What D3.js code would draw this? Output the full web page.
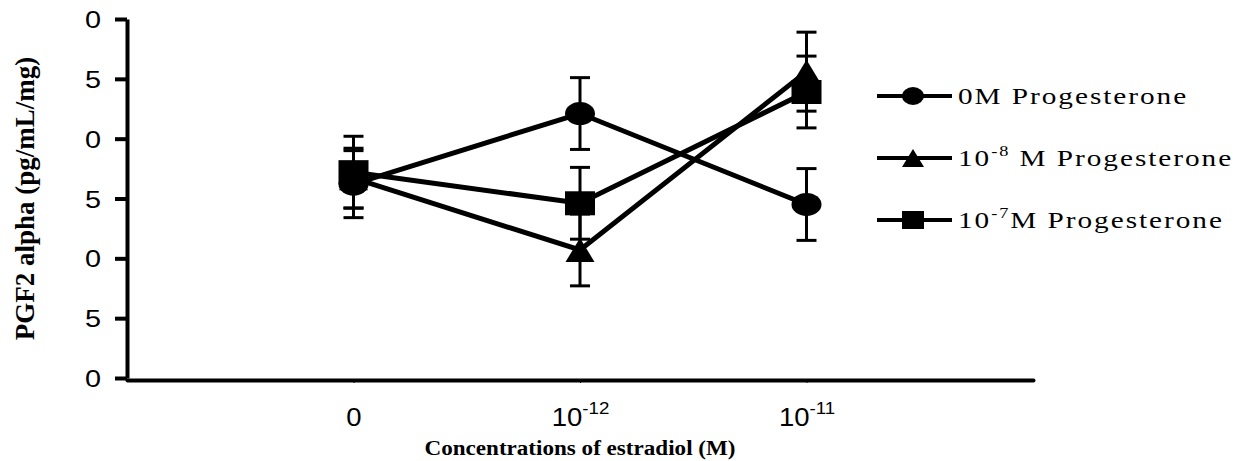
<!DOCTYPE html>
<html>
<head>
<meta charset="utf-8">
<script src="https://cdn.jsdelivr.net/npm/d3@7"></script>
<style>
  body { margin: 0; background: #fff; }
  svg { display: block; }
</style>
</head>
<body>
<svg id="chart" width="1239" height="461"></svg>
<script>
// estradiol concentrations on the x axis
var categories = ['0', '1e-12', '1e-11']
var tickBase = ['0', '10', '10']
var tickSup = ['', '-12', '-11']

// y ticks (labels only show last digit, as in the original)
var yTicks = [0, 5, 10, 15, 20, 25, 30]

// series: PGF2 alpha means and error
var seriesNames = ['0M Progesterone', '10-8 M Progesterone', '10-7 M Progesterone']
var p0Values = [16.2, 22.1, 14.5]
var p0Errors = [2.8, 3.0, 3.0]
var p8Values = [16.7, 10.7, 25.6]
var p8Errors = [2.5, 3.0, 3.3]
var p7Values = [17.2, 14.6, 23.9]
var p7Errors = [3.0, 3.0, 3.0]

var series = [
  { name: seriesNames[0], values: p0Values, errors: p0Errors, marker: 'circle' },
  { name: seriesNames[1], values: p8Values, errors: p8Errors, marker: 'triangle' },
  { name: seriesNames[2], values: p7Values, errors: p7Errors, marker: 'square' }
]

// the original picture is a bit wider than tall, text included
var stretch = 1.2

function widen(sel, ax, ay, s) {
  s = s || stretch
  sel.attr('transform', 'translate(' + ax + ',' + ay + ') scale(' + s + ',1) translate(' + (-ax) + ',' + (-ay) + ')')
}

var svg = d3.select('#chart')

var x = d3.scaleLinear().domain([-1, 3]).range([127, 1033])
var y = d3.scaleLinear().domain([0, 30]).range([378, 19])

// y axis
var yAxis = svg.append('g')
  .attr('transform', 'translate(127,0)')
  .call(d3.axisLeft(y).tickValues(yTicks).tickSize(12).tickSizeOuter(0)
    .tickFormat(function(d) { return String(d % 10) }))
yAxis.select('.domain').attr('stroke-width', 4)
yAxis.selectAll('.tick line').attr('stroke-width', 4)
yAxis.selectAll('.tick text')
  .attr('x', -26)
  .attr('dy', '0.36em')
  .attr('font-family', 'Arial, Liberation Sans, sans-serif')
  .attr('font-size', 24)
  .attr('fill', '#000')
  .call(widen, -26, 0)

// x axis
var xAxis = svg.append('g')
  .attr('transform', 'translate(0,380)')
  .call(d3.axisBottom(x).tickValues([0, 1, 2]).tickSize(3).tickSizeOuter(0).tickFormat(''))
xAxis.select('.domain').attr('stroke-width', 4).attr('stroke-linecap', 'round')
xAxis.selectAll('.tick line').attr('stroke-width', 1)
xAxis.selectAll('.tick text').each(function(d) {
  var t = d3.select(this)
  t.text(null)
    .attr('y', 46)
    .attr('dy', 0)
    .attr('font-family', 'Arial, Liberation Sans, sans-serif')
    .attr('font-size', 25)
    .attr('fill', '#000')
    .call(widen, 0, 46, 1.1)
  t.append('tspan').text(tickBase[d])
  if (tickSup[d]) {
    t.append('tspan').attr('dy', -12).attr('font-size', 17).text(tickSup[d])
  }
})

// axis titles
svg.append('text')
  .attr('x', x(1))
  .attr('y', 455)
  .attr('text-anchor', 'middle')
  .attr('font-family', 'Liberation Serif, Times New Roman, serif')
  .attr('font-weight', 'bold')
  .attr('font-size', 21)
  .call(widen, x(1), 455, 1.1)
  .text('Concentrations of estradiol (M)')

svg.append('text')
  .attr('transform', 'translate(34,' + y(15) + ') rotate(-90)')
  .attr('text-anchor', 'middle')
  .attr('font-family', 'Liberation Serif, Times New Roman, serif')
  .attr('font-weight', 'bold')
  .attr('font-size', 27)
  .text('PGF2 alpha (pg/mL/mg)')

function drawMarker(g, type, cx, cy, w, h) {
  if (type === 'circle') {
    g.append('ellipse').attr('cx', cx).attr('cy', cy).attr('rx', w / 2).attr('ry', h / 2)
  } else if (type === 'square') {
    g.append('rect').attr('x', cx - w / 2).attr('y', cy - h / 2).attr('width', w).attr('height', h)
  } else {
    g.append('path').attr('d', 'M' + cx + ',' + (cy - h / 2) +
      'L' + (cx + w / 2) + ',' + (cy + h / 2) + 'L' + (cx - w / 2) + ',' + (cy + h / 2) + 'Z')
  }
}

var line = d3.line()
  .x(function(d, i) { return x(i) })
  .y(function(d) { return y(d) })

series.forEach(function(s) {
  var g = svg.append('g')
  // error bars
  s.values.forEach(function(v, i) {
    var eb = g.append('g').attr('stroke', '#000').attr('stroke-width', 3)
    eb.append('line').attr('x1', x(i)).attr('x2', x(i)).attr('y1', y(v - s.errors[i])).attr('y2', y(v + s.errors[i]))
    eb.append('line').attr('x1', x(i) - 10).attr('x2', x(i) + 10).attr('y1', y(v - s.errors[i])).attr('y2', y(v - s.errors[i]))
    eb.append('line').attr('x1', x(i) - 10).attr('x2', x(i) + 10).attr('y1', y(v + s.errors[i])).attr('y2', y(v + s.errors[i]))
  })
  g.append('path')
    .datum(s.values)
    .attr('d', line)
    .attr('fill', 'none')
    .attr('stroke', '#000')
    .attr('stroke-width', 5)
  var m = g.append('g').attr('fill', '#000')
  s.values.forEach(function(v, i) {
    drawMarker(m, s.marker, x(i), y(v), s.marker === 'triangle' ? 29 : 30, s.marker === 'circle' ? 23 : 24)
  })
})

// legend
var legendY = [96, 158, 220]
var legend = svg.append('g')
series.forEach(function(s, i) {
  var row = legend.append('g')
  row.append('line')
    .attr('x1', 877).attr('x2', 952)
    .attr('y1', legendY[i]).attr('y2', legendY[i])
    .attr('stroke', '#000').attr('stroke-width', 4)
  drawMarker(row.append('g').attr('fill', '#000'), s.marker, 913, legendY[i], 22, 18)
  var t = row.append('text')
    .attr('x', 958)
    .attr('y', legendY[i] + 8)
    .attr('font-family', 'Liberation Serif, Times New Roman, serif')
    .attr('font-size', 24)
    .attr('letter-spacing', 1.6)
    .attr('fill', '#000')
    .call(widen, 958, legendY[i] + 8, 1.22)
  if (i === 0) {
    t.text(s.name)
  } else {
    t.append('tspan').text('10')
    t.append('tspan').attr('dy', -10).attr('font-size', 15).text(i === 1 ? '-8' : '-7')
    t.append('tspan').attr('dy', 10).text(i === 1 ? ' M Progesterone' : 'M Progesterone')
  }
})
</script>
</body>
</html>
